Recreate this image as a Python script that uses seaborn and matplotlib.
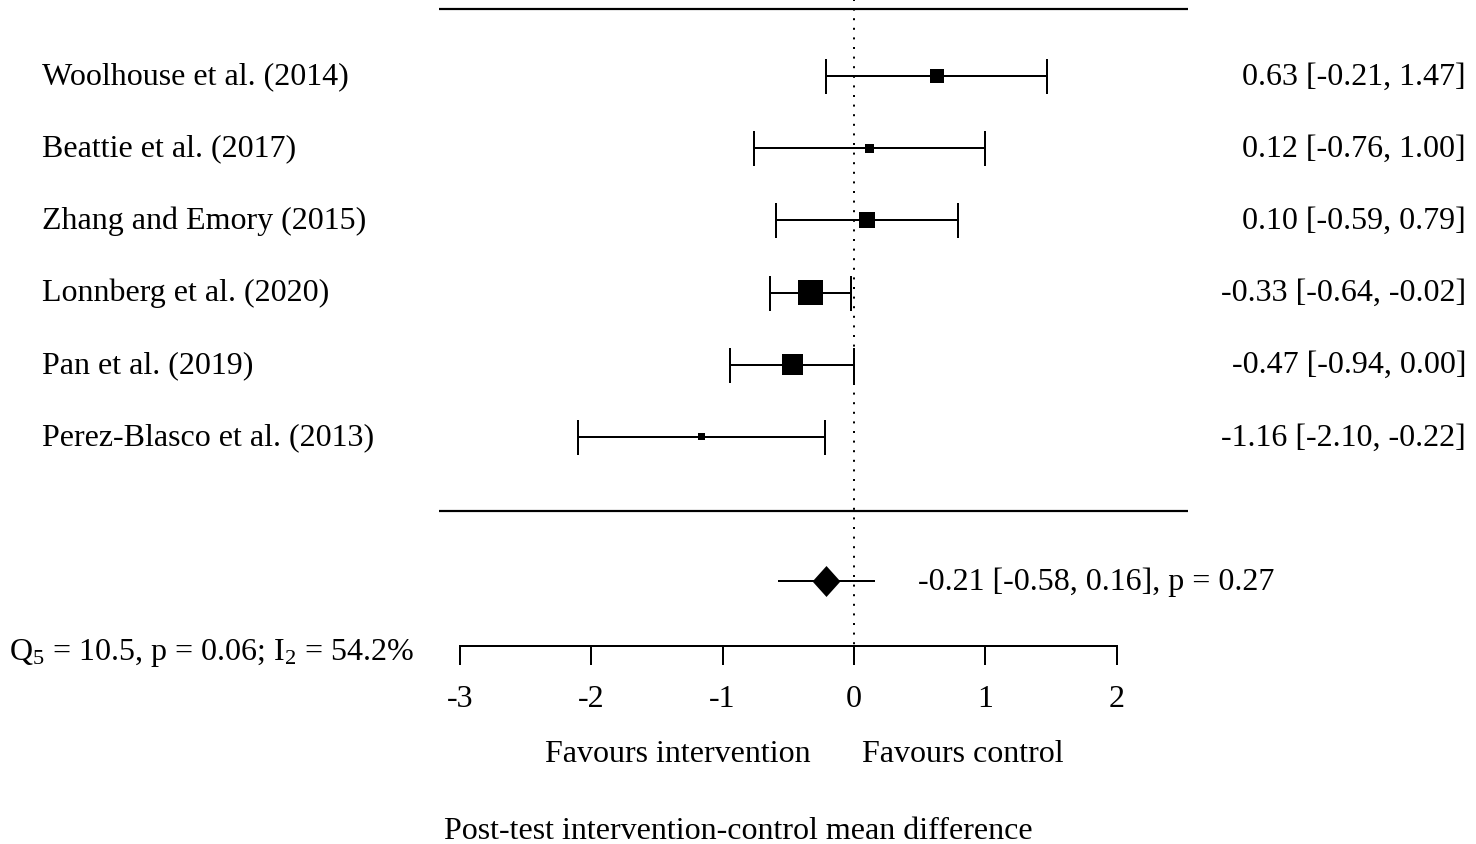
import matplotlib
matplotlib.use("Agg")
import matplotlib.pyplot as plt
import numpy as np
import pandas as pd
import seaborn as sns

# Study-level data
studies = [
    "Woolhouse et al. (2014)",
    "Beattie et al. (2017)",
    "Zhang and Emory (2015)",
    "Lonnberg et al. (2020)",
    "Pan et al. (2019)",
    "Perez-Blasco et al. (2013)",
]
estimates = [0.63, 0.12, 0.10, -0.33, -0.47, -1.16]
ci_lower = [-0.21, -0.76, -0.59, -0.64, -0.94, -2.10]
ci_upper = [1.47, 1.00, 0.79, -0.02, 0.00, -0.22]
box_weight = [14, 9, 16, 25, 21, 7]  # relative box size as drawn

# Pooled random-effects result
pooled_est = -0.21
pooled_lower = -0.58
pooled_upper = 0.16
pooled_label = "-0.21 [-0.58, 0.16], p = 0.27"
het_label = r"Q$_5$ = 10.5, p = 0.06; I$_2$ = 54.2%"

x_ticks = [-3, -2, -1, 0, 1, 2]
xlabel = "Post-test intervention-control mean difference"
left_note = "Favours intervention"
right_note = "Favours control"

sns.set_theme(style="white")
plt.rcParams["font.family"] = ["Liberation Serif", "DejaVu Serif"]
plt.rcParams["mathtext.fontset"] = "custom"
plt.rcParams["mathtext.rm"] = "Liberation Serif"
plt.rcParams["mathtext.it"] = "Liberation Serif:italic"
plt.rcParams["axes.unicode_minus"] = False
plt.rcParams["text.color"] = "black"
plt.rcParams["xtick.color"] = "black"
plt.rcParams["xtick.labelcolor"] = "black"

FS = 23
LW = 1.44

df = pd.DataFrame({
    "study": studies,
    "estimate": estimates,
    "lower": ci_lower,
    "upper": ci_upper,
    "row": np.arange(len(studies)),
})
df["label"] = [f"{e:.2f} [{l:.2f}, {u:.2f}]" for e, l, u in zip(estimates, ci_lower, ci_upper)]
box_area = {s: (w * 0.72) ** 2 for s, w in zip(studies, box_weight)}

fig = plt.figure(figsize=(14.76, 8.45), dpi=100)
ax = fig.add_axes([0, 0, 1, 1])
ax.set_xlim(-6.499, 4.734)
ax.set_ylim(10.637, -1.066)

n = len(studies)
sep_top, sep_bottom = -0.928, n + 0.025
pooled_row = n + 1
axis_row = n + 1.895

# separators and reference line
ax.hlines([sep_top, sep_bottom], -3.16, 2.54, color="black", lw=LW * 1.1)
ax.vlines(0, -1.066, axis_row, color="black", lw=LW, linestyles=(0, (1, 3.8)))

# study CIs and boxes
ax.errorbar(df["estimate"], df["row"],
            xerr=[df["estimate"] - df["lower"], df["upper"] - df["estimate"]],
            fmt="none", ecolor="black", elinewidth=LW, capsize=12.6, capthick=LW)
sns.scatterplot(data=df, x="estimate", y="row", size="study", sizes=box_area,
                marker="s", color="black", linewidth=0, legend=False, ax=ax, zorder=3)

# pooled estimate
ax.hlines(pooled_row, pooled_lower, pooled_upper, color="black", lw=LW)
diamond = [(-0.9, 0), (0, 1), (0.9, 0), (0, -1)]
ax.plot([pooled_est], [pooled_row], marker=diamond, markersize=22.3,
        color="black", markeredgewidth=0, linestyle="none", zorder=4)

# texts
for _, r in df.iterrows():
    ax.text(-6.18, r["row"], r["study"], ha="left", va="center", fontsize=FS)
    ax.text(4.658, r["row"], r["label"], ha="right", va="center", fontsize=FS)
ax.text(0.487, pooled_row, pooled_label, ha="left", va="center", fontsize=FS)
ax.text(-6.43, axis_row + 0.08, het_label, ha="left", va="center", fontsize=FS)
ax.text(-0.33, 9.39, left_note, ha="right", va="center", fontsize=FS)
ax.text(0.06, 9.39, right_note, ha="left", va="center", fontsize=FS)
ax.text(-0.88, 10.45, xlabel, ha="center", va="center", fontsize=FS)

# x axis drawn on the bottom spine
for side in ["top", "left", "right"]:
    ax.spines[side].set_visible(False)
ax.spines["bottom"].set_position(("data", axis_row))
ax.spines["bottom"].set_bounds(x_ticks[0], x_ticks[-1])
ax.spines["bottom"].set_linewidth(LW)
ax.spines["bottom"].set_color("black")
ax.set_xticks(x_ticks)
ax.set_xticklabels([str(t) for t in x_ticks])
ax.tick_params(axis="x", direction="out", length=13.7, width=LW, pad=13.7,
               labelsize=FS, color="black", labelcolor="black", bottom=True)
ax.set_yticks([])
ax.set_xlabel("")
ax.set_ylabel("")
ax.grid(False)

fig.savefig("out.png", dpi=100)
